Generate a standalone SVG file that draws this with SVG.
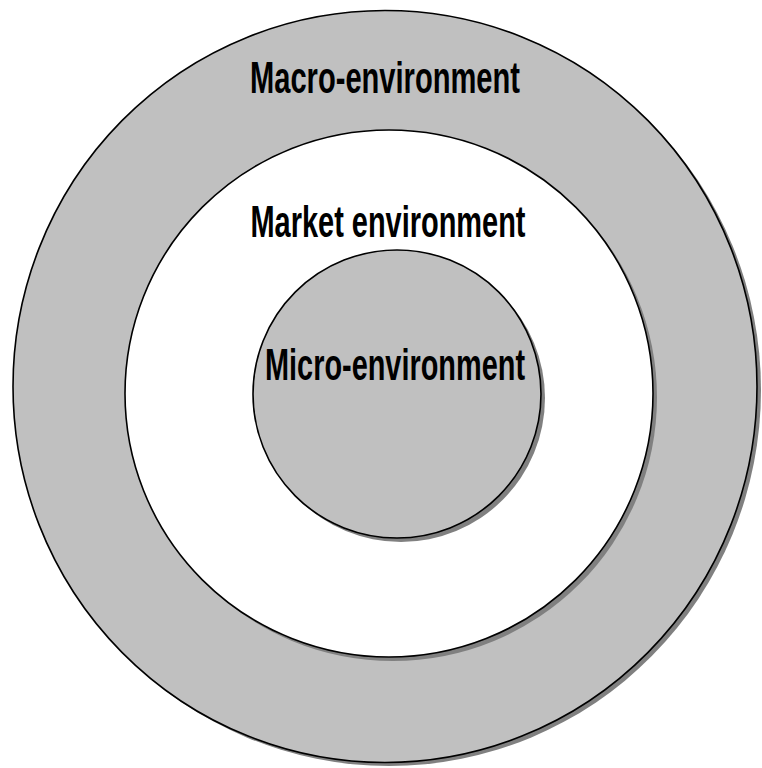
<svg xmlns="http://www.w3.org/2000/svg" width="762" height="768" viewBox="0 0 762 768">
<style>
.shadow{fill:#808080;stroke:none}
.ring{fill:#c0c0c0;stroke:#000;stroke-width:1.6}
.white{fill:#fff;stroke:#000;stroke-width:1.6}
.lbl{font-family:"Liberation Sans",Arial,sans-serif;font-weight:bold;font-size:44px;fill:#000;text-anchor:middle}
</style>
<rect width="762" height="768" fill="#fff"/>
<g id="macro">
<ellipse class="shadow" cx="389" cy="390" rx="372" ry="376"/>
<ellipse class="ring" cx="385" cy="386.5" rx="372" ry="376"/>
<text class="lbl" x="385" y="93" textLength="270" lengthAdjust="spacingAndGlyphs">Macro-environment</text>
</g>
<g id="market">
<ellipse class="shadow" cx="393" cy="397.5" rx="264" ry="263.5"/>
<ellipse class="white" cx="389" cy="393.5" rx="264" ry="263.5"/>
<text class="lbl" x="388" y="237" textLength="275" lengthAdjust="spacingAndGlyphs">Market environment</text>
</g>
<g id="micro">
<ellipse class="shadow" cx="401" cy="398" rx="144" ry="144"/>
<ellipse class="ring" cx="397" cy="394" rx="144" ry="144"/>
<text class="lbl" x="395" y="380" textLength="260" lengthAdjust="spacingAndGlyphs">Micro-environment</text>
</g>
<g id="connectors"/>
</svg>
